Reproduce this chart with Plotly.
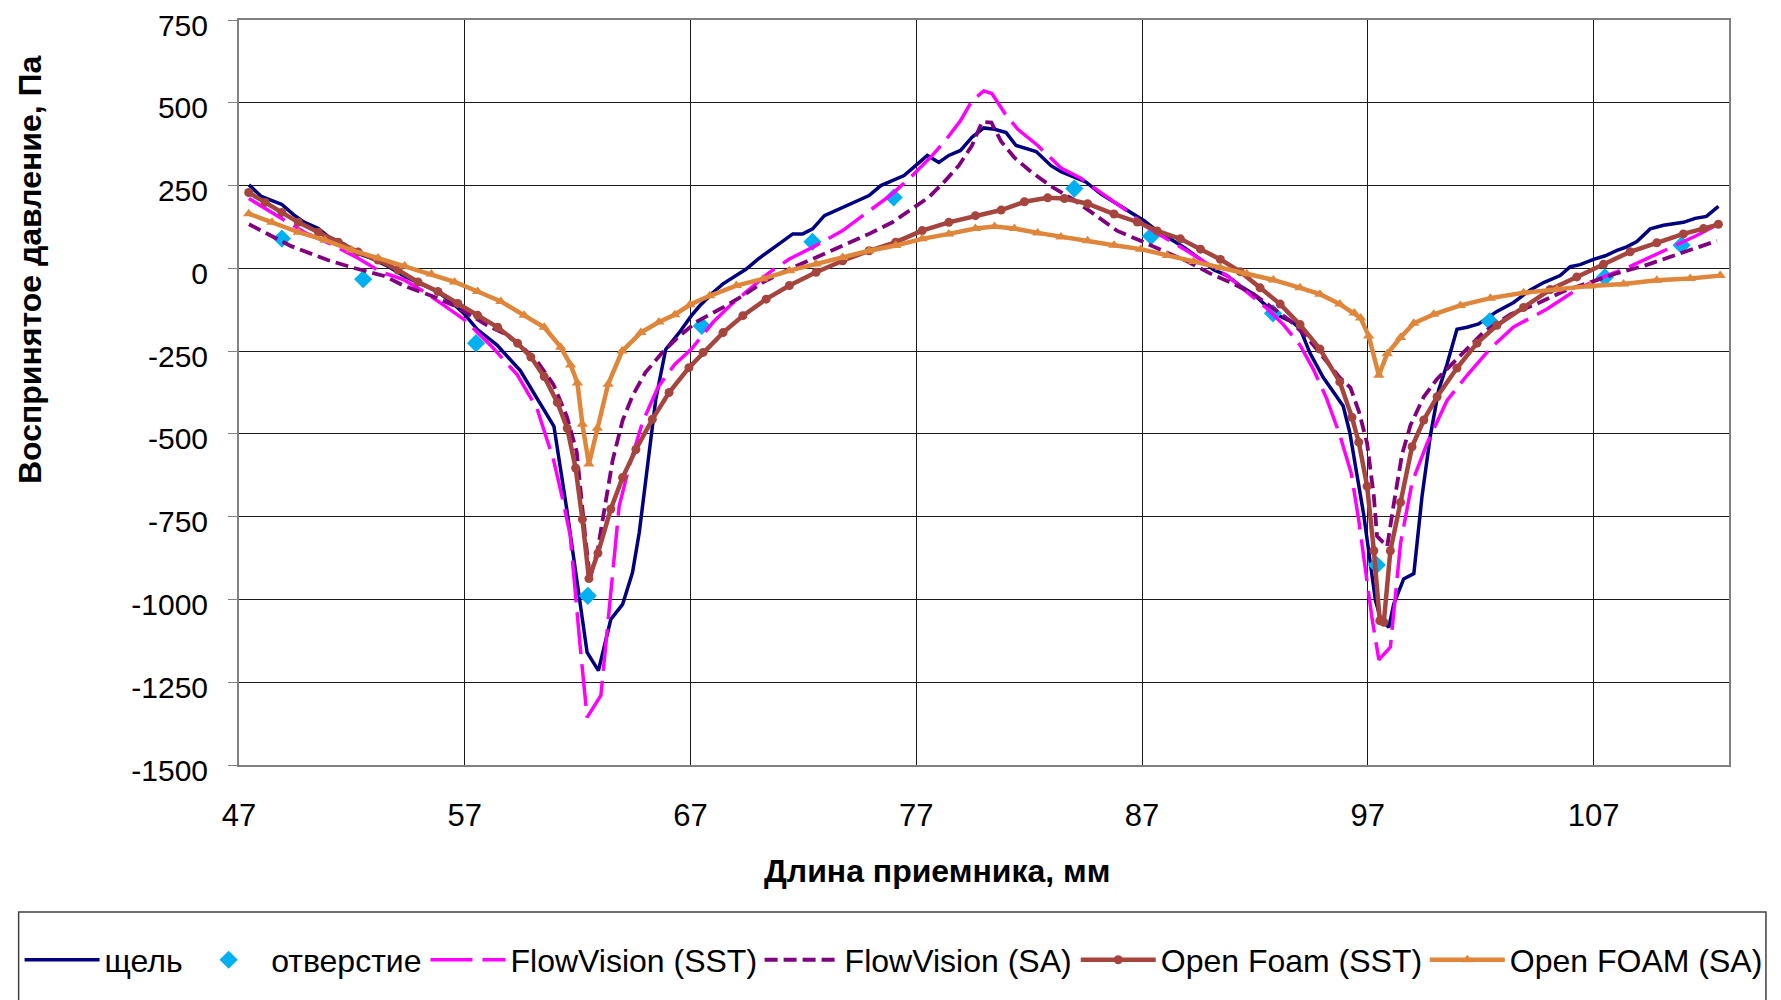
import plotly.graph_objects as go

# ---------------- data ----------------
slot_x = [47.44, 47.99, 48.9, 49.4, 49.9, 50.5, 50.93, 51.67, 52.1, 52.84, 53.57, 54.3, 55.05, 55.78,
          56.37, 56.96, 57.55, 58.43, 59.46, 60.34, 60.95, 61.5, 61.96, 62.42, 62.92, 63.47, 63.99,
          64.43, 64.73, 65.1, 65.46, 65.9, 66.49, 67.04, 67.41, 68.0, 68.44, 69.47, 69.99, 70.8, 71.53,
          71.97, 72.41, 72.93, 73.44, 74.03, 74.91, 75.43, 75.94, 76.46, 76.97, 77.49, 78.0, 78.44,
          78.96, 79.47, 79.99, 80.47, 80.98, 81.42, 82.31, 82.97, 83.41, 84.51, 85.17, 86.06, 86.64,
          87.09, 87.67, 88.26, 88.85, 89.59, 90.17, 90.76, 91.35, 91.94, 92.53, 93.12, 93.7, 94.0,
          94.44, 95.03, 95.91, 96.2, 96.64, 96.82, 97.34, 97.56, 97.93, 98.15, 98.59, 99.04, 99.4,
          99.77, 100.14, 100.5, 100.95, 101.4, 101.91, 102.72, 103.46, 104.2, 104.79, 105.52, 105.97,
          106.41, 107.0, 107.52, 108.04, 108.47, 108.92, 109.51, 110.1, 110.98, 111.5, 112.0, 112.53]
slot_y = [252, 217, 193, 163, 139, 121, 97, 73, 49, 31, 7, -23, -47, -70,
          -100, -136, -184, -232, -309, -411, -477, -719, -948, -1160, -1215, -1060, -1015,
          -919, -798, -598, -396, -245, -195, -143, -113, -73, -47, -2, 28, 68, 104,
          104, 119, 159, 174, 194, 220, 250, 265, 280, 310, 341, 320, 341,
          356, 396, 424, 420, 410, 371, 353, 310, 292, 261, 225, 187, 163,
          144, 113, 89, 64, 27, -4, -22, -53, -78, -115, -145, -164, -182,
          -256, -330, -416, -495, -663, -744, -1003, -1057, -1084, -1014, -938, -922, -690,
          -506, -367, -292, -184, -178, -168, -130, -103, -65, -43, -22, 5,
          11, 27, 38, 54, 65, 81, 119, 130, 139, 151, 157, 187]

hole_x = [48.9, 52.5, 57.5, 62.45, 67.5, 72.4, 76.0, 84.0, 87.4, 92.8, 97.4, 102.4, 107.5, 110.9]
hole_y = [90, -33, -226, -989, -174, 80, 214, 241, 97, -136, -896, -160, -27, 70]

fv_sst_x = [47.44, 48.13, 48.87, 49.9, 51.08, 52.26, 53.29, 54.32, 55.2, 56.08, 56.96, 58.14, 59.32,
            60.2, 60.93, 61.3, 61.67, 62.11, 62.42, 63.03, 63.84, 64.29, 64.87, 65.55, 66.3, 67.04,
            68.0, 68.74, 69.62, 70.5, 71.38, 72.56, 73.74, 75.06, 75.94, 76.82, 77.71, 78.29, 78.96,
            79.47, 79.99, 80.35, 80.91, 81.5, 82.38, 83.41, 84.29, 85.32, 86.35, 87.23, 88.12, 89.0,
            89.88, 90.76, 91.64, 92.53, 93.26, 94.0, 94.59, 95.17, 95.76, 96.27, 96.6, 96.8, 97.19,
            97.49, 98.0, 98.45, 98.96, 99.63, 100.51, 101.4, 102.43, 103.46, 104.94, 106.26, 107.44,
            108.47, 109.51, 110.54, 111.57, 112.46]
fv_sst_y = [211, 181, 151, 109, 73, 31, -11, -35, -71, -112, -154, -232, -321,
            -423, -578, -686, -806, -1140, -1356, -1290, -718, -597, -466, -360, -290, -244,
            -163, -113, -63, -12, 28, 69, 114, 179, 225, 280, 341, 386, 446,
            506, 536, 528, 469, 420, 371, 303, 272, 222, 173, 124, 89, 52,
            15, -22, -71, -121, -170, -232, -305, -392, -503, -620, -761, -860, -1058,
            -1182, -1144, -831, -647, -528, -399, -323, -242, -177, -123, -64, -26,
            1, 34, 66, 99, 131]

fv_sa_x = [47.44, 48.28, 49.31, 50.93, 52.1, 53.43, 54.32, 55.49, 56.52, 57.26, 57.99, 58.73, 59.46,
           60.2, 60.93, 61.52, 61.96, 62.33, 62.55, 62.9, 63.15, 63.55, 63.99, 64.43, 65.0, 65.74,
           66.45, 67.3, 68.44, 69.32, 70.21, 71.38, 72.56, 73.74, 74.91, 75.94, 76.82, 77.56, 78.29,
           78.88, 79.47, 79.91, 80.33, 80.76, 81.35, 82.09, 82.97, 84.0, 85.03, 85.91, 86.94, 87.97,
           89.0, 90.03, 91.06, 91.94, 92.82, 93.56, 94.29, 95.03, 95.76, 96.23, 96.6, 96.97, 97.27,
           97.41, 97.86, 98.15, 98.52, 98.89, 99.48, 100.07, 100.95, 102.13, 103.31, 104.49, 105.67,
           106.85, 108.03, 109.21, 110.39, 111.57, 112.46]
fv_sa_y = [133, 103, 67, 25, 1, -23, -53, -82, -112, -142, -172, -196, -232,
           -280, -351, -447, -554, -806, -937, -845, -740, -580, -460, -385, -315, -255,
           -208, -160, -118, -83, -42, -2, 33, 69, 104, 139, 179, 215, 265,
           310, 371, 442, 440, 383, 334, 291, 248, 206, 156, 113, 83, 52,
           21, -16, -47, -78, -121, -158, -207, -269, -330, -360, -431, -528, -690,
           -809, -840, -712, -561, -474, -388, -334, -274, -193, -139, -107, -69,
           -42, -15, 7, 34, 61, 83]

of_sst_x = [47.43, 48.16, 48.9, 49.63, 50.52, 51.4, 52.28, 53.16, 54.04, 54.93, 55.81, 56.69, 57.57,
            58.46, 59.34, 59.93, 60.52, 61.1, 61.54, 61.91, 62.21, 62.5, 62.9, 63.47, 63.99, 64.58,
            65.31, 66.05, 66.93, 67.56, 68.44, 69.32, 70.35, 71.38, 72.56, 73.74, 74.91, 76.09, 77.26,
            78.44, 79.62, 80.76, 81.79, 82.82, 83.56, 84.59, 85.76, 86.79, 87.67, 88.7, 89.59, 90.47,
            91.35, 92.23, 93.12, 94.0, 94.88, 95.76, 96.3, 96.6, 96.97, 97.27, 97.53, 97.71, 98.0,
            98.45, 98.96, 99.48, 100.07, 100.95, 101.84, 102.72, 103.9, 105.08, 106.26, 107.44,
            108.62, 109.8, 110.98, 111.87, 112.53]
of_sst_y = [229, 199, 169, 139, 109, 79, 49, 25, -5, -41, -70, -106, -142,
            -178, -226, -268, -327, -405, -483, -603, -758, -937, -860, -727, -632, -547,
            -456, -375, -300, -254, -194, -143, -93, -52, -12, 23, 53, 79, 114,
            139, 159, 176, 201, 213, 211, 195, 164, 140, 113, 89, 58, 27,
            -10, -59, -108, -170, -244, -343, -450, -525, -658, -853, -1064, -1069, -853,
            -707, -539, -458, -388, -301, -226, -172, -118, -64, -26, 12,
            50, 77, 104, 120, 133]

of_sa_x = [47.43, 48.46, 49.63, 50.81, 51.99, 53.16, 54.34, 55.52, 56.55, 57.57, 58.6, 59.63, 60.52,
           61.25, 61.69, 61.99, 62.21, 62.5, 62.87, 63.35, 63.97, 64.8, 65.6, 66.3, 66.97, 67.85,
           69.03, 70.21, 71.38, 72.56, 73.74, 74.91, 76.09, 77.26, 78.44, 79.62, 80.47, 81.35, 82.38,
           83.41, 84.59, 85.76, 86.94, 88.12, 89.29, 90.47, 91.64, 92.82, 94.0, 94.88, 95.76, 96.4,
           96.68, 97.04, 97.49, 97.86, 98.45, 99.04, 99.92, 101.1, 102.43, 103.9, 105.38, 106.85,
           108.33, 109.8, 111.28, 112.61]
of_sa_y = [165, 139, 109, 85, 55, 31, 7, -17, -41, -70, -100, -142, -178,
           -238, -292, -346, -471, -591, -483, -350, -250, -194, -162, -140, -110, -83,
           -52, -32, -7, 13, 33, 53, 69, 89, 104, 120, 126, 120, 107,
           95, 83, 70, 58, 39, 21, 2, -16, -35, -59, -78, -108, -135,
           -150, -204, -323, -258, -209, -166, -139, -112, -90, -74, -63, -53,
           -47, -36, -31, -22]

series_names = ["щель", "отверстие", "FlowVision (SST)", "FlowVision (SA)",
                "Open Foam (SST)", "Open FOAM (SA)"]
x_title = "Длина приемника, мм"
y_title = "Воспринятое давление, Па"
x_ticks = [47, 57, 67, 77, 87, 97, 107]
y_ticks = [750, 500, 250, 0, -250, -500, -750, -1000, -1250, -1500]

# ---------------- figure ----------------
FONT = "Liberation Sans, Arial, sans-serif"
fig = go.Figure()

fig.add_trace(go.Scatter(x=slot_x, y=slot_y, name=series_names[0], mode="lines",
                         legend="legend",
                         line=dict(color="#000080", width=3.5)))
fig.add_trace(go.Scatter(x=hole_x, y=hole_y, name=series_names[1], mode="markers",
                         legend="legend2",
                         marker=dict(symbol="diamond", color="#00B0F0", size=14)))
fig.add_trace(go.Scatter(x=fv_sst_x, y=fv_sst_y, name=series_names[2], mode="lines",
                         legend="legend3",
                         line=dict(color="#FF00FF", width=3.5, dash="42px,10px")))
fig.add_trace(go.Scatter(x=fv_sa_x, y=fv_sa_y, name=series_names[3], mode="lines",
                         legend="legend4",
                         line=dict(color="#800080", width=3.8, dash="13px,6px")))
fig.add_trace(go.Scatter(x=of_sst_x, y=of_sst_y, name=series_names[4], mode="lines+markers",
                         legend="legend5",
                         line=dict(color="#A5453E", width=4.5),
                         marker=dict(symbol="circle", color="#A5453E", size=9)))
fig.add_trace(go.Scatter(x=of_sa_x, y=of_sa_y, name=series_names[5], mode="lines+markers",
                         legend="legend6",
                         line=dict(color="#E0863A", width=4.5),
                         marker=dict(symbol="triangle-up", color="#E0863A", size=10)))

# one legend per series so each entry sits where the reference puts it
legend_left_px = [15, 182, 422, 757, 1074, 1424]   # page x of each legend block
PLOT_L, PLOT_W = 235, 1494


def legend_style(left_px):
    return dict(orientation="h", x=(left_px - PLOT_L) / PLOT_W, xanchor="left",
                y=-0.2617, yanchor="middle",
                bgcolor="rgba(0,0,0,0)", borderwidth=0,
                font=dict(family=FONT, size=32, color="black"), itemwidth=75)


legend_layout = {("legend" if i == 0 else "legend%d" % (i + 1)): legend_style(px)
                 for i, px in enumerate(legend_left_px)}

# page body adds an 8 px offset, so margins are shifted by 8 px
fig.update_layout(
    width=1781, height=1000,
    margin=dict(l=227, r=60, t=12, b=243),
    paper_bgcolor="white", plot_bgcolor="white",
    font=dict(family=FONT, color="black"),
    showlegend=True,
    shapes=[dict(type="rect", xref="paper", yref="paper",
                 x0=-0.1479, x1=1.0248, y0=-0.1973, y1=-0.34,
                 line=dict(color="#404040", width=1.5), fillcolor="rgba(0,0,0,0)", layer="below")],
    annotations=[
        dict(text="<b>" + x_title + "</b>", xref="paper", yref="paper", x=0.4685, y=-0.1424,
             xanchor="center", yanchor="middle", showarrow=False,
             font=dict(family=FONT, size=32, color="black")),
        dict(text="<b>" + y_title + "</b>", xref="paper", yref="paper", x=-0.1406, y=0.665,
             xanchor="center", yanchor="middle", showarrow=False, textangle=-90,
             font=dict(family=FONT, size=32, color="black")),
    ],
    **legend_layout,
)

fig.update_xaxes(range=[47, 113], tickmode="array", tickvals=x_ticks,
                 ticktext=[str(v) for v in x_ticks], automargin=False,
                 showgrid=True, gridcolor="#1a1a1a", gridwidth=1,
                 showline=True, linecolor="#808080", linewidth=2, mirror=True,
                 zeroline=False, ticks="", ticklabelstandoff=22, ticklabeloverflow="allow",
                 tickfont=dict(family=FONT, size=31, color="black"))
fig.update_yaxes(range=[-1500, 750], tickmode="array", tickvals=y_ticks,
                 ticktext=[str(v) for v in y_ticks], automargin=False,
                 showgrid=True, gridcolor="#1a1a1a", gridwidth=1,
                 showline=True, linecolor="#808080", linewidth=2, mirror=True,
                 zeroline=False, ticks="outside", ticklen=9, tickcolor="#808080", tickwidth=1,
                 ticklabelstandoff=14, ticklabelshift=5, ticklabeloverflow="allow",
                 tickfont=dict(family=FONT, size=30, color="black"))

fig.write_html("out.html")
